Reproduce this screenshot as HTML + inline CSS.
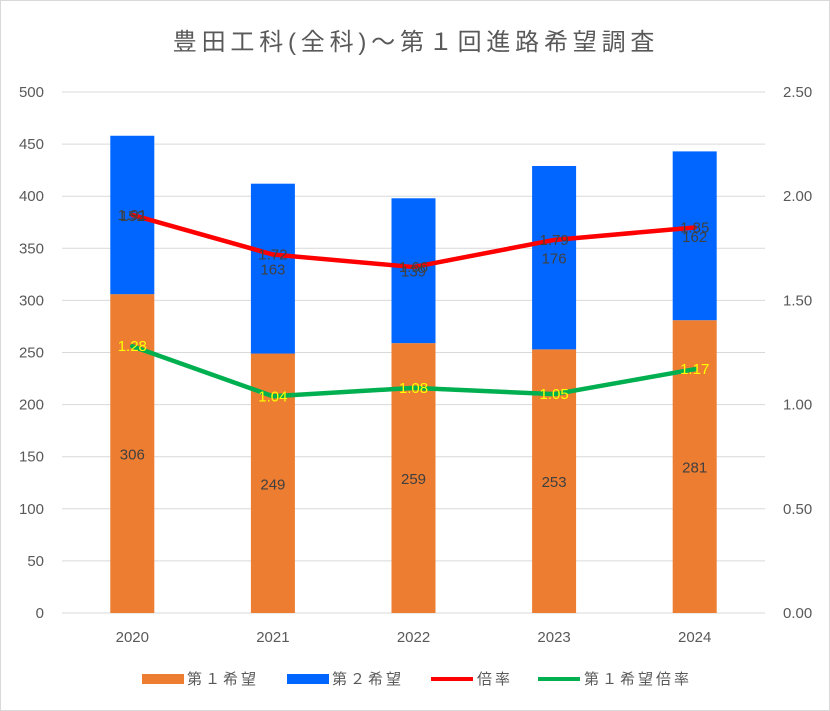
<!DOCTYPE html>
<html><head><meta charset="utf-8"><style>
body{margin:0;background:#fff;}
svg{display:block;font-family:"Liberation Sans","Noto Sans CJK JP",sans-serif;}
</style></head><body>
<svg id="chart" width="830" height="711" viewBox="0 0 830 711">
<rect x="0.5" y="0.5" width="829" height="710" fill="#fff" stroke="#d9d9d9"/>
<text x="416" y="50" text-anchor="middle" font-size="24" letter-spacing="4.8" fill="#595959">豊田工科(全科)～第１回進路希望調査</text>
<g id="grid"></g><g id="bars"></g><g id="lines"></g><g id="labels"></g><g id="axes"></g>
<g id="legend" font-size="15" fill="#595959" letter-spacing="3">
<rect x="142" y="674" width="42" height="10" fill="#ED7D31"/>
<text x="187" y="684">第１希望</text>
<rect x="287" y="674" width="42" height="10" fill="#0066FF"/>
<text x="332" y="684">第２希望</text>
<line x1="431" y1="679" x2="473" y2="679" stroke="#FF0000" stroke-width="4"/>
<text x="477" y="684">倍率</text>
<line x1="538" y1="679" x2="580" y2="679" stroke="#00B050" stroke-width="4"/>
<text x="584" y="684">第１希望倍率</text>
</g>
</svg>
<script>
const categories=["2020","2021","2022","2023","2024"];
const firstChoice=[306,249,259,253,281];
const secondChoice=[152,163,139,176,162];
const ratio=[1.91,1.72,1.66,1.79,1.85];
const firstRatio=[1.28,1.04,1.08,1.05,1.17];
const leftTicks=[0,50,100,150,200,250,300,350,400,450,500];
const rightTicks=["0.00","0.50","1.00","1.50","2.00","2.50"];
const NS="http://www.w3.org/2000/svg";
const x0=62,x1=765,yB=613,yT=92;
const yL=v=>yB-(v/500)*(yB-yT);
const yR=v=>yB-(v/2.5)*(yB-yT);
const step=(x1-x0)/categories.length;
const xC=i=>x0+step*(i+0.5);
function mk(t,a,p){const e=document.createElementNS(NS,t);for(const k in a)e.setAttribute(k,a[k]);document.getElementById(p).appendChild(e);return e;}
leftTicks.forEach(v=>{
 const l=mk('line',{x1:x0,x2:x1,y1:yL(v),y2:yL(v),stroke:'#d9d9d9','stroke-width':1},'grid');
 
 
 const t=mk('text',{x:44,y:yL(v)+5,'text-anchor':'end','font-size':15,fill:'#595959'},'axes');t.textContent=v;
 
 
});
rightTicks.forEach(s=>{
 const t=mk('text',{x:783,y:yR(parseFloat(s))+5,'font-size':15,fill:'#595959'},'axes');t.textContent=s;
 
 
});
categories.forEach((c,i)=>{
 const w=44,cx=xC(i);
 const b1=mk('rect',{x:cx-w/2,y:yL(firstChoice[i]),width:w,height:yB-yL(firstChoice[i]),fill:'#ED7D31'},'bars');
 
 
 const tot=firstChoice[i]+secondChoice[i];
 const b2=mk('rect',{x:cx-w/2,y:yL(tot),width:w,height:yL(firstChoice[i])-yL(tot),fill:'#0066FF'},'bars');
 
 
 const t1=mk('text',{x:cx,y:(yL(firstChoice[i])+yB)/2+6,'text-anchor':'middle','font-size':15,fill:'#404040'},'labels');t1.textContent=firstChoice[i];
 
 
 const t2=mk('text',{x:cx,y:(yL(tot)+yL(firstChoice[i]))/2+6,'text-anchor':'middle','font-size':15,fill:'#404040'},'labels');t2.textContent=secondChoice[i];
 
 
 const t3=mk('text',{x:cx,y:yR(ratio[i])+5,'text-anchor':'middle','font-size':15,fill:'#404040'},'labels');t3.textContent=ratio[i].toFixed(2);
 
 
 const t4=mk('text',{x:cx,y:yR(firstRatio[i])+5,'text-anchor':'middle','font-size':15,fill:'#FFFF00'},'labels');t4.textContent=firstRatio[i].toFixed(2);
 
 
 const tc=mk('text',{x:cx,y:642,'text-anchor':'middle','font-size':15,fill:'#595959'},'axes');tc.textContent=c;
 
 
});
const p1=mk('polyline',{points:ratio.map((v,i)=>xC(i)+','+yR(v)).join(' '),fill:'none',stroke:'#FF0000','stroke-width':4.5,'stroke-linejoin':'round','stroke-linecap':'round'},'lines');


const p2=mk('polyline',{points:firstRatio.map((v,i)=>xC(i)+','+yR(v)).join(' '),fill:'none',stroke:'#00B050','stroke-width':4.5,'stroke-linejoin':'round','stroke-linecap':'round'},'lines');


</script>
</body></html>
